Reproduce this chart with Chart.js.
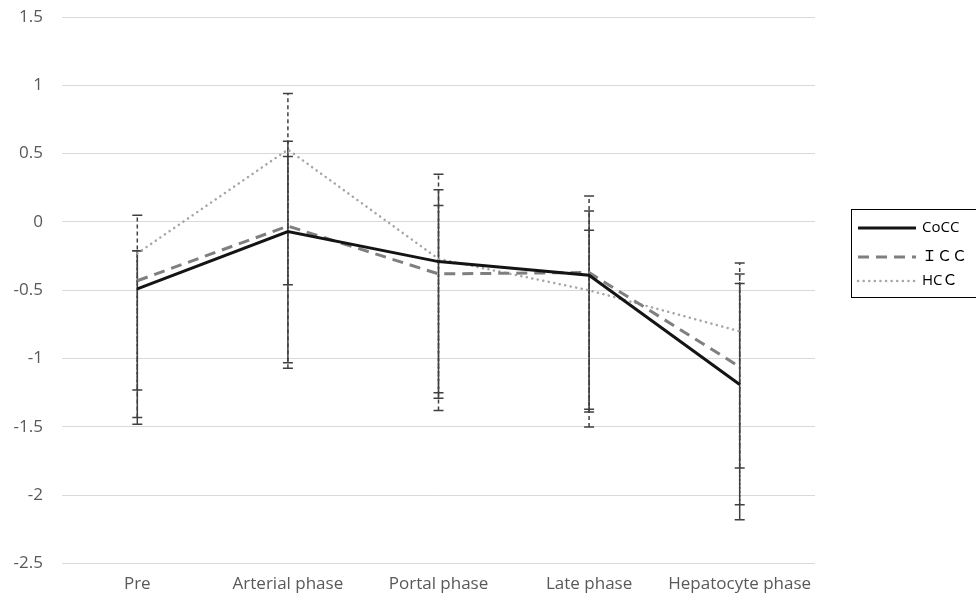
<!DOCTYPE html>
<html>
<head>
<meta charset="utf-8">
<script src="https://cdn.jsdelivr.net/npm/chart.js@4"></script>
<style>
    body { margin: 0; background: #fff; }
    .chart-container { position: relative; width: 976px; height: 600px; }
</style>
</head>
<body>
<div class="chart-container">
    <canvas id="phaseChart"></canvas>
</div>

<script>
    // values
    const phases = ['Pre', 'Arterial phase', 'Portal phase', 'Late phase', 'Hepatocyte phase'];
    const seriesNames = ['CoCC', 'ＩＣＣ', 'HCＣ'];

    const cocc = [-0.49, -0.07, -0.29, -0.39, -1.19];
    const icc = [-0.43, -0.03, -0.38, -0.37, -1.06];
    const hcc = [-0.23, 0.53, -0.27, -0.50, -0.80];

    // error bar ends [low, high]
    const coccErr = [[-1.48, -0.21], [-1.03, 0.59], [-1.29, 0.235], [-1.39, 0.08], [-2.18, -0.45]];
    const iccErr = [[-1.43, 0.05], [-1.07, 0.94], [-1.38, 0.35], [-1.50, 0.19], [-1.80, -0.30]];
    const hccErr = [[-1.23, -0.21], [-0.46, 0.48], [-1.25, 0.12], [-1.37, -0.06], [-2.07, -0.38]];

    const yTicks = [1.5, 1, 0.5, 0, -0.5, -1, -1.5, -2, -2.5];

    const errSets = [
        { err: coccErr, dash: [] },
        { err: iccErr, dash: [4, 3] },
        { err: hccErr, dash: [2, 2] }
    ];

    const errorBarPlugin = {
        id: 'errorBars',
        beforeDatasetsDraw(chart) {
            const ctx = chart.ctx;
            const x = chart.scales.x;
            const y = chart.scales.y;
            ctx.save();
            ctx.strokeStyle = '#404040';
            ctx.lineWidth = 1.5;
            errSets.forEach(set => {
                set.err.forEach((e, i) => {
                    const px = x.getPixelForValue(i);
                    const yLow = y.getPixelForValue(e[0]);
                    const yHigh = y.getPixelForValue(e[1]);
                    ctx.setLineDash(set.dash);
                    ctx.beginPath();
                    ctx.moveTo(px, yLow);
                    ctx.lineTo(px, yHigh);
                    ctx.stroke();
                    ctx.setLineDash([]);
                    ctx.beginPath();
                    ctx.moveTo(px - 5, yLow);
                    ctx.lineTo(px + 5, yLow);
                    ctx.moveTo(px - 5, yHigh);
                    ctx.lineTo(px + 5, yHigh);
                    ctx.stroke();
                });
            });
            ctx.restore();
        }
    };

    const boxLegendPlugin = {
        id: 'boxLegend',
        afterDraw(chart) {
            const ctx = chart.ctx;
            const left = 851, top = 209;
            ctx.save();
            ctx.strokeStyle = '#000';
            ctx.lineWidth = 1;
            ctx.strokeRect(left + 0.5, top + 0.5, 140, 88);
            const rows = [228, 257, 281];
            chart.data.datasets.forEach((ds, i) => {
                ctx.strokeStyle = ds.borderColor;
                ctx.lineWidth = ds.borderWidth;
                ctx.lineCap = ds.borderCapStyle || 'butt';
                ctx.setLineDash(ds.borderDash || []);
                ctx.beginPath();
                ctx.moveTo(858, rows[i]);
                ctx.lineTo(916, rows[i]);
                ctx.stroke();
                ctx.setLineDash([]);
                ctx.fillStyle = '#000';
                ctx.font = '15px "Open Sans", "Noto Sans CJK JP", sans-serif';
                ctx.textBaseline = 'middle';
                ctx.fillText(ds.label, 922, rows[i]);
            });
            ctx.restore();
        }
    };

    const ctx = document.getElementById('phaseChart').getContext('2d');
    const chart = new Chart(ctx, {
        type: 'line',
        data: {
            labels: phases,
            datasets: [{
                label: seriesNames[0],
                data: cocc,
                borderColor: '#141414',
                borderWidth: 3,
                pointRadius: 0,
                tension: 0
            }, {
                label: seriesNames[1],
                data: icc,
                borderColor: '#7f7f7f',
                borderWidth: 3,
                borderDash: [11, 7],
                pointRadius: 0,
                tension: 0
            }, {
                label: seriesNames[2],
                data: hcc,
                borderColor: '#a6a6a6',
                borderWidth: 2.5,
                borderDash: [0.1, 5.5],
                borderCapStyle: 'round',
                pointRadius: 0,
                tension: 0
            }]
        },
        options: {
            responsive: true,
            maintainAspectRatio: false,
            animation: false,
            layout: { padding: { left: 10, right: 161, top: 17, bottom: -4 } },
            plugins: {
                legend: { display: false },
                tooltip: { enabled: false }
            },
            scales: {
                x: {
                    offset: true,
                    grid: { display: false, drawTicks: false },
                    border: { display: false },
                    ticks: {
                        color: '#595959',
                        font: { family: 'Open Sans', size: 17 },
                        padding: 10,
                        maxRotation: 0
                    }
                },
                y: {
                    min: -2.5,
                    max: 1.5,
                    afterBuildTicks(axis) {
                        axis.ticks = yTicks.map(v => ({ value: v }));
                    },
                    afterFit(axis) {
                        axis.width = 52;
                        axis.paddingTop = 0;
                    },
                    grid: { color: '#d9d9d9', drawTicks: false, lineWidth: 1 },
                    border: { display: false },
                    ticks: {
                        color: '#595959',
                        font: { family: 'Open Sans', size: 17 },
                        padding: 19,
                        callback: v => String(v)
                    }
                }
            }
        },
        plugins: [errorBarPlugin, boxLegendPlugin]
    });
</script>
</body>
</html>
